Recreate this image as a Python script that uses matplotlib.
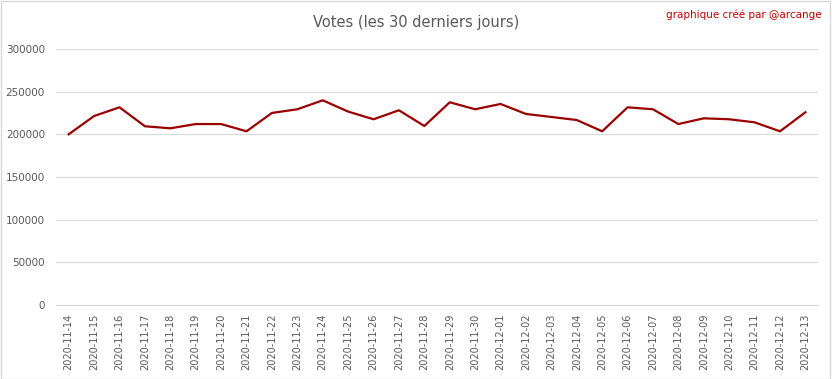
import matplotlib.pyplot as plt
from matplotlib.patches import Rectangle

# dates and votes
dates = ['2020-11-14', '2020-11-15', '2020-11-16', '2020-11-17', '2020-11-18',
         '2020-11-19', '2020-11-20', '2020-11-21', '2020-11-22', '2020-11-23',
         '2020-11-24', '2020-11-25', '2020-11-26', '2020-11-27', '2020-11-28',
         '2020-11-29', '2020-11-30', '2020-12-01', '2020-12-02', '2020-12-03',
         '2020-12-04', '2020-12-05', '2020-12-06', '2020-12-07', '2020-12-08',
         '2020-12-09', '2020-12-10', '2020-12-11', '2020-12-12', '2020-12-13']
votes = [200000, 221400, 231600, 209400, 207000, 212000, 212000, 203500, 225000, 229300,
         239800, 226600, 217600, 228100, 209700, 237500, 229300, 235500, 223800, 220300,
         216700, 203500, 231600, 229300, 212000, 218700, 217600, 214000, 203500, 225800]
yticks = [0, 50000, 100000, 150000, 200000, 250000, 300000]

fig = plt.figure(figsize=(8.32, 3.79), dpi=100)
ax = fig.add_axes([0.0673, 0.195, 0.916, 0.676])

x = list(range(len(dates)))
ax.plot(x, votes, color='#9B0000', linewidth=1.6)

ax.set_xlim(-0.5, len(dates) - 0.5)
ax.set_ylim(0, 300000)
ax.set_yticks(yticks)
ax.set_yticklabels([str(v) for v in yticks])
ax.set_xticks(x)
ax.set_xticklabels(dates, rotation=90)
ax.tick_params(axis='both', length=0, colors='#595959', labelsize=7.5)
ax.tick_params(axis='x', pad=6, labelsize=7)
ax.tick_params(axis='y', pad=8)
ax.grid(axis='y', color='#D9D9D9', linewidth=0.8)
ax.set_axisbelow(True)
for s in ['top', 'right', 'left']:
    ax.spines[s].set_visible(False)
ax.spines['bottom'].set_color('#D9D9D9')
ax.spines['bottom'].set_linewidth(0.8)

fig.text(0.5, 0.94, 'Votes (les 30 derniers jours)', ha='center', va='center',
         fontsize=10.5, color='#595959')
fig.text(0.988, 0.962, 'graphique créé par @arcange', ha='right', va='center',
         fontsize=7.5, color='#C00000')

# thin frame around the whole chart
fig.patches.append(Rectangle((0.001, 0.001), 0.997, 0.997, transform=fig.transFigure,
                             fill=False, edgecolor='#D9D9D9', linewidth=1))

fig.savefig('out.png', dpi=100)
